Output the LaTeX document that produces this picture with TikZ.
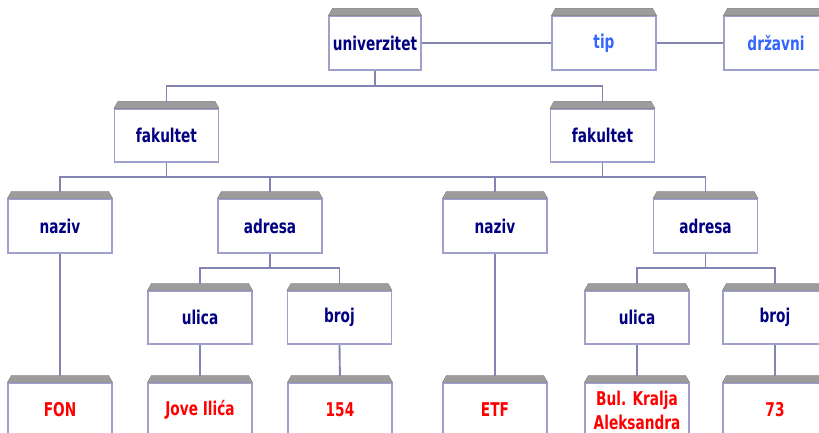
\documentclass[tikz,border=0pt]{standalone}
\usepackage{fontspec}
\setmainfont{DejaVu Sans}[FakeStretch=0.72]
\usetikzlibrary{backgrounds}
\definecolor{navtxt}{HTML}{000080}
\definecolor{bluetxt}{HTML}{3366FF}
\definecolor{redtxt}{HTML}{FF0000}
\definecolor{boxc}{HTML}{A0A0CC}
\definecolor{linec}{HTML}{8484B4}
\definecolor{barc}{HTML}{9C9C9C}
\tikzset{
  x=1pt,y=1pt,
  ent/.style={draw=boxc, line width=1.1pt, fill=white, minimum width=104pt,
    minimum height=54pt, inner sep=0pt, align=center,
    font=\fontsize{19}{24}\selectfont\bfseries},
  navy/.style={ent, text=navtxt},
  blu/.style={ent, text=bluetxt},
  rd/.style={ent, text=redtxt},
  conn/.style={draw=linec, line width=1.9pt},
  bar/.style={fill=barc, draw=barc!80!black, line width=0.4pt}
}
\begin{document}
\begin{tikzpicture}
\useasboundingbox (0,0) rectangle (819,432);
% row 0
\node[navy, minimum width=92pt] (univ) at (375,389) {univerzitet};
\node[blu] (tip) at (604,389) {tip};
\node[blu] (drz) at (776,389) {državni};
% row 1
\node[navy, minimum height=53pt] (fak1) at (166.5,296.5) {fakultet};
\node[navy, minimum height=53pt] (fak2) at (602.5,296.5) {fakultet};
% row 2
\node[navy] (naz1) at (60,206) {naziv};
\node[navy] (adr1) at (270,206) {adresa};
\node[navy] (naz2) at (495,206) {naziv};
\node[navy] (adr2) at (705.5,206) {adresa};
% row 3
\node[navy, minimum height=53pt] (ul1) at (200,114.5) {ulica};
\node[navy, minimum height=53pt] (br1) at (339.5,114.5) {broj};
\node[navy, minimum height=53pt] (ul2) at (637,114.5) {ulica};
\node[navy, minimum height=53pt] (br2) at (775,114.5) {broj};
% row 4
\node[rd] (fon) at (60,22) {FON};
\node[rd] (jove) at (200,22) {Jove Ilića};
\node[rd] (n154) at (340,22) {154};
\node[rd] (etf) at (495,22) {ETF};
\node[rd] (bul) at (637,22) {Bul. Kralja\\Aleksandra};
\node[rd] (n73) at (775,22) {73};
% gray top bars
\foreach \n in {univ,tip,drz,fak1,fak2,naz1,adr1,naz2,adr2,ul1,br1,ul2,br2,fon,jove,n154,etf,bul,n73}{
  \path[bar] (\n.north west) -- ([xshift=4pt,yshift=7pt]\n.north west)
    -- ([xshift=-4pt,yshift=7pt]\n.north east) -- (\n.north east) -- cycle;
}
\coordinate (L1) at (0,346);
\coordinate (L2) at (0,255);
\coordinate (L3) at (0,164);
\begin{pgfonlayer}{background}
\draw[conn] (univ.east) -- (tip.west);
\draw[conn] (tip.east) -- (drz.west);
\draw[conn] (univ.south) -- (univ.south |- L1);
\draw[conn] (fak1.north) -- (fak1.north |- L1) -- (fak2.north |- L1) -- (fak2.north);
\draw[conn] (fak1.south) -- (fak1.south |- L2);
\draw[conn] (fak2.south) -- (fak2.south |- L2);
\draw[conn] (naz1.north) -- (naz1.north |- L2) -- (adr2.north |- L2) -- (adr2.north);
\draw[conn] (adr1.north) -- (adr1.north |- L2);
\draw[conn] (naz2.north) -- (naz2.north |- L2);
\draw[conn] (adr1.south) -- (adr1.south |- L3);
\draw[conn] (ul1.north) -- (ul1.north |- L3) -- (br1.north |- L3) -- (br1.north);
\draw[conn] (adr2.south) -- (adr2.south |- L3);
\draw[conn] (ul2.north) -- (ul2.north |- L3) -- (br2.north |- L3) -- (br2.north);
\draw[conn] (naz1.south) -- (fon.north);
\draw[conn] (ul1.south) -- (jove.north);
\draw[conn] (br1.south) -- (n154.north);
\draw[conn] (naz2.south) -- (etf.north);
\draw[conn] (ul2.south) -- (bul.north);
\draw[conn] (br2.south) -- (n73.north);
\end{pgfonlayer}
\end{tikzpicture}
\end{document}
